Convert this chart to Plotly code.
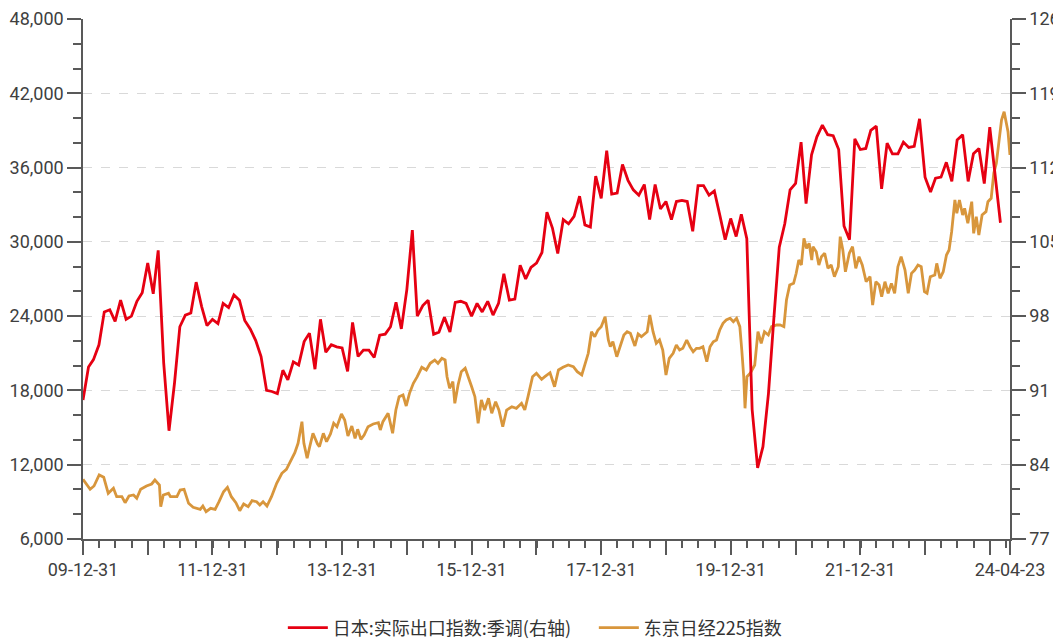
import plotly.graph_objects as go
import pandas as pd

# ---------------- data ----------------
# Japan real export index, seasonally adjusted (right axis), monthly from 2009-12
export_index = [
    90.1, 93.2, 93.9, 95.3, 98.4, 98.6, 97.5, 99.5, 97.7, 98.0, 99.4, 100.2,
    103.0, 100.1, 104.2, 93.6, 87.2, 91.7, 97.0, 98.1, 98.3, 101.2, 98.9, 97.1,
    97.7, 97.3, 99.2, 98.8, 100.0, 99.5, 97.6, 96.8, 95.7, 94.2, 91.0, 90.9,
    90.7, 92.9, 92.0, 93.7, 93.4, 95.6, 96.4, 93.0, 97.7, 94.6, 95.3, 95.1,
    95.0, 92.8, 97.4, 94.2, 94.8, 94.8, 94.1, 96.2, 96.3, 97.0, 99.3, 96.8,
    100.5, 106.1, 98.0, 99.0, 99.5, 96.3, 96.5, 97.9, 96.5, 99.3, 99.4, 99.2,
    98.0, 99.2, 98.4, 99.4, 98.1, 99.2, 102.0, 99.5, 99.6, 102.8, 101.5, 102.6,
    103.0, 104.0, 107.8, 106.3, 103.9, 107.1, 106.7, 107.4, 109.3, 106.6, 106.4, 111.2,
    109.1, 113.6, 109.5, 109.6, 112.3, 110.8, 109.9, 109.4, 110.4, 107.1, 110.4, 108.1,
    108.8, 107.1, 108.8, 108.9, 108.8, 106.0, 110.3, 110.3, 109.4, 109.8, 107.5, 105.2,
    107.2, 105.5, 107.6, 105.3, 89.2, 83.7, 85.7, 90.7, 97.9, 104.5, 106.7, 109.9,
    110.5, 114.4, 108.6, 113.2, 114.9, 116.0, 115.1, 115.0, 113.7, 106.5, 105.2, 114.7,
    113.7, 113.8, 115.5, 115.9, 110.0, 114.3, 113.3, 113.3, 114.4, 113.9, 114.0, 116.6,
    111.1, 109.7, 111.0, 111.1, 112.5, 110.7, 114.6, 115.1, 110.7, 113.3, 113.8, 110.5,
    115.8, 111.1, 106.8,
]
export_start = "2009-12-31"

# Nikkei 225 (left axis): observation times (decimal years) and index levels
nikkei_t = [
    2010.00, 2010.11, 2010.17, 2010.25, 2010.32, 2010.39, 2010.47, 2010.52, 2010.60, 2010.65,
    2010.71, 2010.78, 2010.83, 2010.89, 2010.98, 2011.06, 2011.11, 2011.18, 2011.20, 2011.24,
    2011.32, 2011.35, 2011.45, 2011.50, 2011.56, 2011.63, 2011.70, 2011.81, 2011.85, 2011.90,
    2011.97, 2012.04, 2012.10, 2012.17, 2012.23, 2012.29, 2012.36, 2012.42, 2012.48, 2012.55,
    2012.61, 2012.68, 2012.73, 2012.78, 2012.84, 2012.91, 2012.99, 2013.07, 2013.14, 2013.21,
    2013.27, 2013.32, 2013.38, 2013.41, 2013.46, 2013.50, 2013.55, 2013.62, 2013.65, 2013.71,
    2013.76, 2013.82, 2013.87, 2013.92, 2013.99, 2014.04, 2014.09, 2014.15, 2014.20, 2014.24,
    2014.29, 2014.34, 2014.40, 2014.48, 2014.56, 2014.59, 2014.63, 2014.71, 2014.78, 2014.83,
    2014.88, 2014.94, 2014.99, 2015.04, 2015.10, 2015.16, 2015.23, 2015.30, 2015.36, 2015.43,
    2015.48, 2015.54, 2015.59, 2015.62, 2015.66, 2015.71, 2015.74, 2015.79, 2015.84, 2015.90,
    2015.95, 2016.00, 2016.05, 2016.10, 2016.15, 2016.20, 2016.26, 2016.31, 2016.37, 2016.42,
    2016.48, 2016.54, 2016.62, 2016.69, 2016.77, 2016.82, 2016.87, 2016.94, 2017.00, 2017.08,
    2017.13, 2017.21, 2017.28, 2017.34, 2017.41, 2017.49, 2017.57, 2017.63, 2017.70, 2017.75,
    2017.80, 2017.85, 2017.90, 2017.95, 2018.00, 2018.06, 2018.11, 2018.14, 2018.18, 2018.24,
    2018.29, 2018.35, 2018.40, 2018.45, 2018.52, 2018.57, 2018.62, 2018.67, 2018.71, 2018.75,
    2018.80, 2018.85, 2018.90, 2018.95, 2019.00, 2019.05, 2019.11, 2019.16, 2019.21, 2019.26,
    2019.32, 2019.37, 2019.42, 2019.47, 2019.52, 2019.57, 2019.63, 2019.68, 2019.73, 2019.78,
    2019.83, 2019.88, 2019.93, 2019.99, 2020.04, 2020.09, 2020.14, 2020.17, 2020.20, 2020.22,
    2020.25, 2020.30, 2020.37, 2020.42, 2020.47, 2020.52, 2020.58, 2020.63, 2020.71, 2020.76,
    2020.82, 2020.86, 2020.91, 2020.97, 2021.01, 2021.05, 2021.09, 2021.13, 2021.17, 2021.21,
    2021.25, 2021.27, 2021.32, 2021.36, 2021.40, 2021.45, 2021.50, 2021.55, 2021.60, 2021.66,
    2021.69, 2021.73, 2021.77, 2021.83, 2021.88, 2021.93, 2021.98, 2022.03, 2022.09, 2022.15,
    2022.19, 2022.24, 2022.29, 2022.33, 2022.38, 2022.43, 2022.48, 2022.53, 2022.58, 2022.63,
    2022.69, 2022.74, 2022.79, 2022.84, 2022.89, 2022.94, 2022.99, 2023.03, 2023.08, 2023.15,
    2023.18, 2023.23, 2023.28, 2023.33, 2023.37, 2023.41, 2023.46, 2023.49, 2023.53, 2023.58,
    2023.61, 2023.66, 2023.72, 2023.75, 2023.79, 2023.83, 2023.88, 2023.94, 2023.97, 2024.02,
    2024.06, 2024.10, 2024.14, 2024.18, 2024.22, 2024.26, 2024.28, 2024.31,
]
nikkei_v = [
    10822, 10014, 10281, 11169, 10984, 9691, 10095, 9417, 9417, 8932,
    9473, 9554, 9287, 10014, 10281, 10442, 10765, 10362, 8609, 9554,
    9691, 9417, 9417, 9958, 10014, 8883, 8560, 8399, 8665, 8205,
    8480, 8399, 9013, 9820, 10176, 9417, 8932, 8286, 8827, 8609,
    9094, 9013, 8746, 9013, 8665, 9417, 10499, 11307, 11630, 12381,
    12970, 13730, 15475, 13730, 12518, 13455, 14537, 13673, 13455, 14537,
    13859, 14481, 15345, 15070, 16096, 15612, 14320, 15127, 14134, 14860,
    14053, 14400, 15070, 15288, 15393, 14804, 15475, 16153, 14537, 16419,
    17494, 17631, 16742, 17766, 18576, 19109, 19868, 19650, 20191, 20458,
    20191, 20595, 20458, 19109, 18172, 18705, 16961, 18438, 19513, 19788,
    19109, 18301, 17494, 15345, 17227, 16419, 17365, 16153, 17090, 16419,
    15070, 16419, 16686, 16557, 16961, 16419, 17494, 19109, 19383, 18899,
    19109, 19432, 18301, 19650, 19868, 20054, 19917, 19513, 19246, 20191,
    20999, 22744, 22340, 22881, 23148, 23955, 22073, 21532, 21936, 20724,
    21532, 22477, 22744, 22613, 21589, 22557, 22340, 22613, 22744, 24092,
    22744, 21807, 22073, 21265, 19246, 20595, 20999, 21670, 21265, 21400,
    22073, 21532, 21128, 21400, 21400, 21532, 20322, 21532, 21936, 22073,
    22881, 23422, 23688, 23826, 23551, 23826, 23148, 21265, 19109, 16557,
    19109, 19383, 20054, 22744, 21807, 22744, 22477, 23148, 23285, 23300,
    23148, 25304, 26515, 26652, 27460, 28535, 28132, 30287, 29480, 29883,
    28535, 29609, 29205, 28132, 28801, 29078, 27865, 28132, 27186, 27994,
    30417, 29342, 27589, 29078, 29609, 27865, 28801, 28132, 26782, 27186,
    24900, 26782, 26515, 25573, 26782, 25845, 26652, 25845, 27994, 28801,
    27727, 25845, 27460, 27727, 28132, 27994, 25976, 25845, 27186, 27325,
    28262, 27057, 27589, 28939, 29342, 30822, 33380, 32306, 33380, 32170,
    32710, 31500, 33243, 30690, 32033, 30555, 32170, 32437, 33243, 33517,
    35538, 36345, 38365, 39843, 40514, 39576, 38898, 37017,
]

x_start = "2009-12-31"
x_end = "2024-04-23"
x_tick_dates = ["2009-12-31", "2010-12-31", "2011-12-31", "2012-12-31", "2013-12-31",
                "2014-12-31", "2015-12-31", "2016-12-31", "2017-12-31", "2018-12-31",
                "2019-12-31", "2020-12-31", "2021-12-31", "2022-12-31", "2023-12-31",
                "2024-04-23"]
x_tick_labels = ["09-12-31", "", "11-12-31", "", "13-12-31", "", "15-12-31", "",
                 "17-12-31", "", "19-12-31", "", "21-12-31", "", "", "24-04-23"]

name_export = "日本:实际出口指数:季调(右轴)"
name_nikkei = "东京日经225指数"

# ---------------- derived x values ----------------
base = pd.Timestamp(export_start)
export_dates = [base + pd.offsets.MonthEnd(i) for i in range(len(export_index))]
nk_base = pd.Timestamp("2009-12-31")
nikkei_dates = [nk_base + pd.Timedelta(days=(t - 2010.0) * 365.25) for t in nikkei_t]

RED = "#E60012"
GOLD = "#D8963C"
AXIS = "#595959"
TXT = "#404040"

fig = go.Figure()
fig.add_trace(go.Scatter(x=export_dates, y=export_index, name=name_export,
                         mode="lines", yaxis="y2",
                         line=dict(color=RED, width=2.8)))
fig.add_trace(go.Scatter(x=nikkei_dates, y=nikkei_v, name=name_nikkei,
                         mode="lines", yaxis="y",
                         line=dict(color=GOLD, width=2.8)))

tickfont = dict(family="Roboto, Noto Sans, sans-serif", size=18, color=TXT)

# The page body adds an 8px offset, so the figure is sized/margined to compensate.
fig.update_layout(
    width=1053, height=635,
    margin=dict(l=75, r=51, t=11, b=104, autoexpand=False),
    paper_bgcolor="white", plot_bgcolor="white",
    showlegend=True,
    legend=dict(orientation="h", xref="container", x=0.261, xanchor="left",
                yref="container", y=0.0236, yanchor="middle",
                font=dict(family="Noto Sans CJK SC, sans-serif", size=18, color="#333333"),
                itemwidth=40, tracegroupgap=0, entrywidth=256),
    xaxis=dict(
        type="date", range=[x_start, x_end], automargin=False,
        ticklabeloverflow="allow",
        tickmode="array", tickvals=x_tick_dates, ticktext=x_tick_labels,
        ticks="outside", ticklen=14, tickwidth=1.5, tickcolor=AXIS,
        showline=True, linecolor=AXIS, linewidth=1.5,
        showgrid=False, zeroline=False, tickfont=tickfont,
        minor=dict(ticks="outside", ticklen=7, tickwidth=1.5, tickcolor=AXIS,
                   dtick="M3", tick0="2010-01-01", showgrid=False),
    ),
    yaxis=dict(
        range=[6000, 48000], tickmode="linear", tick0=6000, dtick=6000,
        tickformat=",d", automargin=False, ticklabeloverflow="allow",
        ticks="outside", ticklen=14, tickwidth=1.5, tickcolor=AXIS,
        showline=True, linecolor=AXIS, linewidth=1.5,
        showgrid=True, gridcolor="#D9D9D9", gridwidth=1.2, griddash="dash",
        zeroline=False, tickfont=tickfont,
        minor=dict(ticks="outside", ticklen=8, tickwidth=1.5, tickcolor=AXIS,
                   dtick=2000, showgrid=False),
    ),
    yaxis2=dict(
        overlaying="y", side="right", automargin=False, ticklabeloverflow="allow",
        range=[77, 126], tickmode="linear", tick0=77, dtick=7,
        ticks="outside", ticklen=14, tickwidth=1.5, tickcolor=AXIS,
        showline=True, linecolor=AXIS, linewidth=1.5,
        showgrid=False, zeroline=False, tickfont=tickfont,
        minor=dict(ticks="outside", ticklen=8, tickwidth=1.5, tickcolor=AXIS,
                   dtick=7 / 3, tick0=77, showgrid=False),
    ),
)

fig.write_html("out.html")
